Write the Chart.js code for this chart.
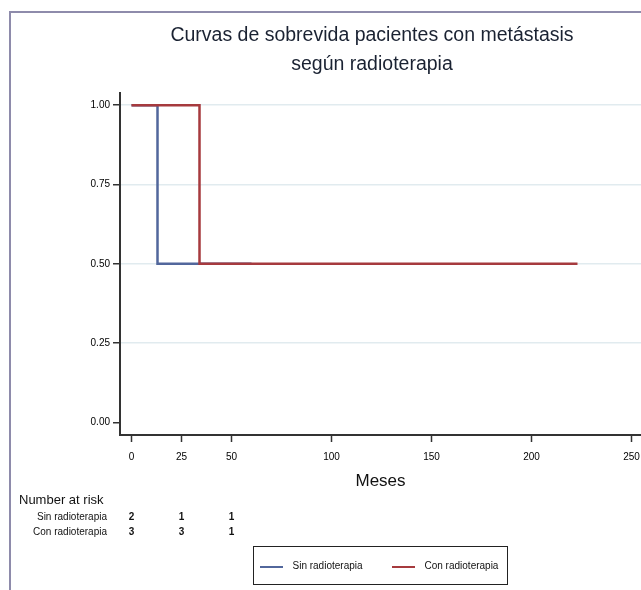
<!DOCTYPE html>
<html>
<head>
<meta charset="utf-8">
<script src="https://cdn.jsdelivr.net/npm/chart.js@4.4.1/dist/chart.umd.min.js"></script>
<style>
  html, body { margin: 0; padding: 0; background: #fff; }
  body { width: 641px; height: 590px; position: relative; overflow: hidden; font-family: 'Liberation Sans', Arial, sans-serif; }
  #frame { position: absolute; left: 9px; top: 11px; width: 700px; height: 700px; border-left: 2px solid #8e8bab; border-top: 2px solid #8e8bab; }
  #title { position: absolute; left: 122px; width: 500px; top: 20px; text-align: center; font-size: 19.5px; line-height: 29px; color: #1a2232; }
  #chart { position: absolute; left: 0; top: 0; }
  #legend { position: absolute; left: 253px; top: 546px; width: 253px; height: 37px; border: 1.5px solid #222; font-size: 10px; color: #111; }
  #legend .sw { position: absolute; top: 19px; width: 23px; height: 2px; }
  #legend .lbl { position: absolute; top: 13px; white-space: nowrap; line-height: 12px; }
</style>
</head>
<body>
<div id="frame"></div>
<canvas id="chart" width="641" height="590"></canvas>
<div id="title">Curvas de sobrevida pacientes con metástasis<br>según radioterapia</div>
<div id="legend"></div>
<script>
// survival curves (months, survival proportion)
const sinTimes = [0, 13, 60];
const sinSurv = [1, 0.5, 0.5];
const conTimes = [0, 34, 223];
const conSurv = [1, 0.5, 0.5];

// number at risk table
const riskTimes = [0, 25, 50];
const sinRisk = [2, 1, 1];
const conRisk = [3, 3, 1];

const groups = ['Sin radioterapia', 'Con radioterapia'];
const colors = ['#52679c', '#a63a3e'];
const xTicks = [0, 25, 50, 100, 150, 200, 250];
const yTicks = [0, 0.25, 0.5, 0.75, 1];

const toPoints = (xs, ys) => xs.map((x, i) => ({ x: x, y: ys[i] }));

const riskTable = {
  id: 'riskTable',
  afterDraw(chart) {
    const { ctx, scales: { x } } = chart;
    ctx.save();
    ctx.fillStyle = '#111';
    ctx.textBaseline = 'middle';
    ctx.font = '13px "Liberation Sans", Arial, sans-serif';
    ctx.textAlign = 'left';
    ctx.fillText('Number at risk', 19, 500);
    [sinRisk, conRisk].forEach((row, r) => {
      const y = 517 + r * 15;
      ctx.font = '10px "Liberation Sans", Arial, sans-serif';
      ctx.textAlign = 'right';
      ctx.fillText(groups[r], 107, y);
      ctx.font = 'bold 10px "Liberation Sans", Arial, sans-serif';
      ctx.textAlign = 'center';
      row.forEach((n, i) => ctx.fillText(String(n), x.getPixelForValue(riskTimes[i]), y));
    });
    ctx.restore();
  }
};

new Chart(document.getElementById('chart'), {
  type: 'line',
  data: {
    datasets: [
      { label: groups[0], data: toPoints(sinTimes, sinSurv), borderColor: colors[0], borderWidth: 2.5, stepped: 'before', pointRadius: 0, order: 1 },
      { label: groups[1], data: toPoints(conTimes, conSurv), borderColor: colors[1], borderWidth: 2.5, stepped: 'before', pointRadius: 0, order: 0 }
    ]
  },
  options: {
    responsive: false,
    animation: false,
    layout: { padding: { top: 93, right: 0, bottom: 0, left: 0 } },
    plugins: { legend: { display: false }, tooltip: { enabled: false } },
    scales: {
      x: {
        type: 'linear',
        min: -5.75,
        max: 254.75,
        afterBuildTicks: s => { s.ticks = xTicks.map(v => ({ value: v })); },
        afterFit: s => { s.height = 155; s.paddingLeft = 0; s.paddingRight = 0; },
        border: { display: true, color: '#333', width: 2 },
        grid: { drawOnChartArea: false, drawTicks: true, tickLength: 7, tickColor: '#333', tickWidth: 1.5 },
        ticks: { color: '#000', font: { size: 10, family: '"Liberation Sans", Arial, sans-serif' }, padding: 9, maxRotation: 0, autoSkip: false },
        title: { display: true, text: 'Meses', color: '#111', font: { size: 17, family: '"Liberation Sans", Arial, sans-serif' }, padding: { top: 0, bottom: 98 } }
      },
      y: {
        min: -0.0394,
        max: 1.0385,
        afterBuildTicks: s => { s.ticks = yTicks.map(v => ({ value: v })); },
        afterFit: s => { s.width = 120; s.paddingTop = 0; s.paddingBottom = 0; },
        border: { display: true, color: '#333', width: 2 },
        grid: {
          color: c => (c.tick && c.tick.value === 0) ? 'rgba(0,0,0,0)' : '#e1ebef',
          lineWidth: 1.5,
          tickLength: 7,
          tickColor: '#333',
          tickWidth: 1.5
        },
        ticks: { color: '#000', font: { size: 10, family: '"Liberation Sans", Arial, sans-serif' }, padding: 3, callback: v => Number(v).toFixed(2) }
      }
    }
  },
  plugins: [riskTable]
});

// legend box built from the group names
const legend = document.getElementById('legend');
const swatchLeft = [5.5, 137.5];
groups.forEach((g, i) => {
  legend.insertAdjacentHTML('beforeend',
    `<span class="sw" style="left:${swatchLeft[i]}px;background:${colors[i]}"></span>` +
    `<span class="lbl" style="left:${swatchLeft[i] + 33}px">${g}</span>`);
});
</script>
</body>
</html>
